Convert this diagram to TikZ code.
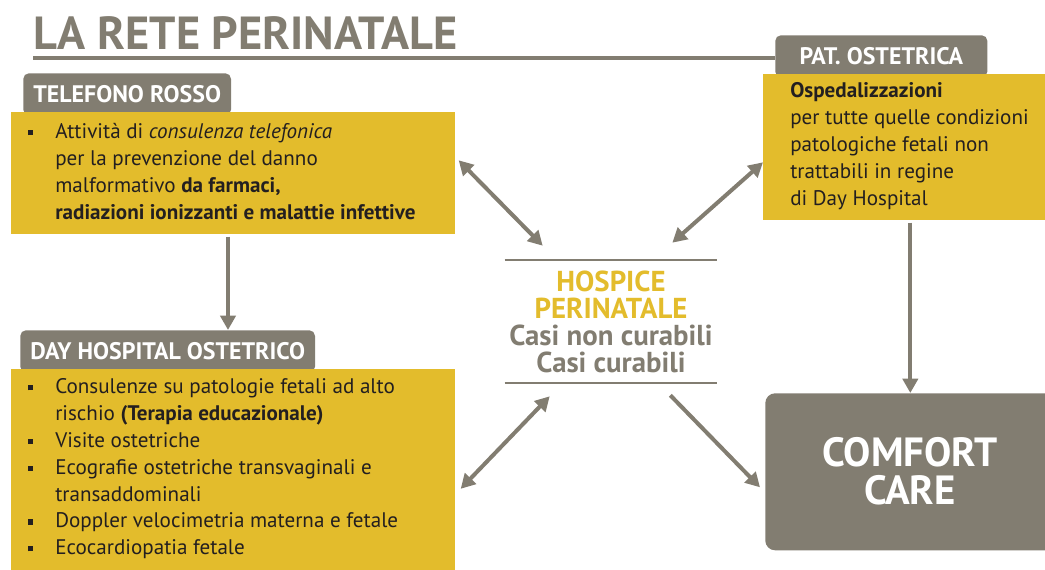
\documentclass[tikz,border=0pt]{standalone}
\usepackage{fontspec}
\setmainfont{PT Sans}
\usetikzlibrary{arrows.meta}

\definecolor{retegrey}{HTML}{827D71}
\definecolor{reteyellow}{HTML}{E3BC2C}
\definecolor{retetext}{HTML}{231F20}

\newcommand{\bul}{\llap{\raisebox{2.4pt}{\rule{3.6pt}{3.6pt}}\hspace{15.5pt}}}

\begin{document}
\begin{tikzpicture}[x=0.025cm, y=-0.025cm,
		tab_style/.style={fill=retegrey, rounded corners=4pt, anchor=north west, inner xsep=0.25cm,
			minimum height=1.05cm, text=white, font=\fontsize{17}{20}\selectfont\bfseries},
		box_style/.style={fill=reteyellow, anchor=north west, inner sep=0pt},
		body_style/.style={anchor=west, inner sep=0pt, align=left, text=retetext,
			font=\fontsize{15}{19.1}\selectfont},
		arrow_style/.style={draw=retegrey, line width=0.1cm, -{Triangle[length=0.36cm, width=0.38cm]}},
		twoway_style/.style={arrow_style, {Triangle[length=0.36cm, width=0.38cm]}-{Triangle[length=0.36cm, width=0.38cm]}}]
		
		\useasboundingbox (0,0) rectangle (1045,570);
		
		% titolo
		\node[anchor=base west, inner sep=0pt, text=retegrey, font=\fontsize{33}{40}\selectfont\bfseries] (title) at (33,50) {LA RETE PERINATALE};
		
		% telefono rosso
		\node[tab_style] (tr_tab) at (23,73) {TELEFONO ROSSO};
		\node[box_style, minimum width=11.1cm, minimum height=3.05cm] (tr_box) at (11,112) {};
		\node[body_style] (tr_text) at ([shift={(44,-2)}]tr_box.west) {\bul Attività di \textit{consulenza telefonica}\\
			per la prevenzione del danno\\
			malformativo \textbf{da farmaci,}\\
			\textbf{radiazioni ionizzanti e malattie infettive}};
		
		% day hospital
		\node[tab_style] (dh_tab) at (20,330) {DAY HOSPITAL OSTETRICO};
		\node[box_style, minimum width=11.1cm, minimum height=5.1cm] (dh_box) at (11,369) {};
		\node[body_style] (dh_text) at ([shift={(44,-2.5)}]dh_box.west) {\bul Consulenze su patologie fetali ad alto\\
			rischio \textbf{(Terapia educazionale)}\\
			\bul Visite ostetriche\\
			\bul Ecografie ostetriche transvaginali e\\
			transaddominali\\
			\bul Doppler velocimetria materna e fetale\\
			\bul Ecocardiopatia fetale};
		
		% patologia ostetrica
		\node[tab_style, minimum width=5.3cm] (po_tab) at (775,35) {PAT. OSTETRICA};
		\node[box_style, minimum width=7.3cm, minimum height=3.65cm] (po_box) at (763,74) {};
		\node[body_style] (po_text) at ([shift={(27,-1)}]po_box.west) {\textbf{Ospedalizzazioni}\\
			per tutte quelle condizioni\\
			patologiche fetali non\\
			trattabili in regine\\
			di Day Hospital};
		
		\coordinate (line_start) at ([shift={(0,8)}]title.base west);
		\draw[retegrey, line width=3pt] (line_start) -- (line_start -| po_tab.west);
		
		% hospice
		\node[inner sep=0pt, minimum width=5.3cm, minimum height=3.075cm, align=center,
			font=\fontsize{20.5}{19.2}\selectfont\bfseries, text=retegrey] (hospice) at (611,321.5)
			{\textcolor{reteyellow}{HOSPICE}\\ \textcolor{reteyellow}{PERINATALE}\\ Casi non curabili\\ Casi curabili};
		\draw[retegrey, line width=1.5pt] (hospice.north west) -- (hospice.north east);
		\draw[retegrey, line width=1.5pt] (hospice.south west) -- (hospice.south east);
		
		% comfort care
		\node[fill=retegrey, rounded corners=7pt, anchor=north west, minimum width=7.25cm, minimum height=3.925cm] (cc_box) at (765,393) {};
		\node[text=white, align=center, font=\fontsize{29}{27}\selectfont\bfseries] (cc_text) at (910,471) {COMFORT\\ CARE};
		
		% frecce
		\coordinate (po_bottom) at (cc_box.north |- po_box.south);
		\draw[arrow_style] ([shift={(217,2)}]tr_box.south west) -- ([shift={(208,0)}]dh_tab.north west);
		\draw[arrow_style] ([shift={(0,2)}]po_bottom) -- (cc_box.north);
		\draw[twoway_style] ([shift={(3,-13)}]tr_box.east) -- ([shift={(38,-14)}]hospice.north west);
		\draw[twoway_style] ([shift={(-45,-17)}]hospice.north east) -- ([shift={(0,15)}]po_box.west);
		\draw[twoway_style] ([shift={(5,17.5)}]dh_box.east) -- ([shift={(45,13)}]hospice.south west);
		\draw[arrow_style] ([shift={(-47,12)}]hospice.south east) -- ([shift={(-5,15.5)}]cc_box.west);
		
\end{tikzpicture}
\end{document}
